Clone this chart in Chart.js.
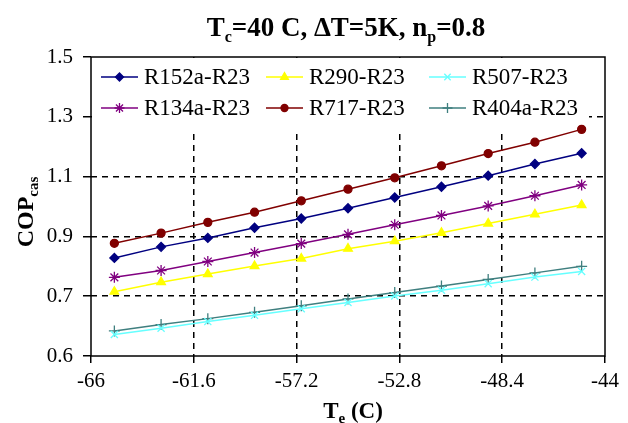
<!DOCTYPE html>
<html>
<head>
<meta charset="utf-8">
<script src="https://cdn.jsdelivr.net/npm/chart.js@4/dist/chart.umd.min.js"></script>
<style>
  html, body { margin: 0; padding: 0; background: #fff; }
  #wrap { width: 628px; height: 423px; position: relative; }
</style>
</head>
<body>
<div id="wrap"><canvas id="copChart" width="628" height="423"></canvas></div>
<script>
// evaporator temperature (C)
const te = [-65, -63, -61, -59, -57, -55, -53, -51, -49, -47, -45];

const r152a = [0.828, 0.865, 0.895, 0.929, 0.960, 0.994, 1.030, 1.066, 1.103, 1.142, 1.178];
const r290  = [0.715, 0.747, 0.774, 0.801, 0.826, 0.859, 0.884, 0.912, 0.943, 0.974, 1.005];
const r507  = [0.572, 0.593, 0.615, 0.636, 0.658, 0.679, 0.701, 0.720, 0.742, 0.764, 0.783];
const r134a = [0.763, 0.786, 0.816, 0.846, 0.876, 0.907, 0.939, 0.970, 1.002, 1.036, 1.072];
const r717  = [0.877, 0.911, 0.947, 0.981, 1.019, 1.058, 1.096, 1.136, 1.177, 1.215, 1.258];
const r404a = [0.584, 0.605, 0.625, 0.646, 0.668, 0.691, 0.712, 0.734, 0.756, 0.778, 0.800];

const xTicks = [-66, -61.6, -57.2, -52.8, -48.4, -44];
const xTickLabels = ['-66', '-61.6', '-57.2', '-52.8', '-48.4', '-44'];
const yTicks = [0.5, 0.7, 0.9, 1.1, 1.3, 1.5];
const yTickLabels = ['0.6', '0.7', '0.9', '1.1', '1.3', '1.5'];

const serif = '"Liberation Serif", "Times New Roman", serif';

function series(label, values, color, style, radius) {
  return {
    label,
    data: values.map((v, i) => ({ x: te[i], y: v })),
    borderColor: color,
    backgroundColor: color,
    borderWidth: 1.5,
    pointStyle: style,
    pointRadius: radius,
    pointBorderWidth: 1.3,
  };
}

// legend order: row by row, 3 columns
const datasets = [
  series('R152a-R23', r152a, '#000080', 'rectRot', 4.5),
  series('R290-R23', r290, '#ffff00', 'triangle', 5),
  series('R507-R23', r507, '#66ffff', 'crossRot', 5),
  series('R134a-R23', r134a, '#800080', 'star', 5.5),
  series('R717-R23', r717, '#800000', 'circle', 4),
  series('R404a-R23', r404a, '#3f7f7f', 'cross', 5.5),
];

const edgeClear = (n) => (ctx) => (ctx.index === 0 || ctx.index === n - 1 ? 'rgba(0,0,0,0)' : '#000');

const decor = {
  id: 'decor',
  beforeDatasetsDraw(chart) {
    const { ctx, chartArea: a } = chart;
    // legend box covers the grid
    ctx.save();
    ctx.fillStyle = '#fff';
    ctx.fillRect(a.left + 1, a.top + 1, 497, 75);
    ctx.restore();
  },
  afterDraw(chart) {
    const { ctx, chartArea: a } = chart;
    ctx.save();
    ctx.strokeStyle = '#000';
    ctx.lineWidth = 1.5;
    ctx.strokeRect(a.left, a.top, a.right - a.left, a.bottom - a.top);

    // legend
    const cols = [101, 266, 429];
    const rows = [77, 108];
    ctx.font = '23px ' + serif;
    ctx.textBaseline = 'middle';
    ctx.textAlign = 'left';
    chart.data.datasets.forEach((ds, i) => {
      const x = cols[i % 3], y = rows[Math.floor(i / 3)];
      ctx.strokeStyle = ds.borderColor;
      ctx.lineWidth = 1.5;
      ctx.beginPath();
      ctx.moveTo(x, y);
      ctx.lineTo(x + 37, y);
      ctx.stroke();
      ctx.fillStyle = ds.backgroundColor;
      ctx.lineWidth = 1.3;
      Chart.helpers.drawPoint(ctx, { pointStyle: ds.pointStyle, radius: ds.pointRadius - 0.5, borderWidth: 1.3, rotation: 0 }, x + 18.5, y);
      ctx.fillStyle = '#000';
      ctx.fillText(ds.label, x + 43, y + 1);
    });

    // title
    ctx.fillStyle = '#000';
    ctx.textBaseline = 'alphabetic';
    const big = 'bold 27px ' + serif, small = 'bold 16px ' + serif;
    const parts = [['T', big, 0], ['c', small, 6], ['=40 C, \u0394T=5K, n', big, 0], ['p', small, 6], ['=0.8', big, 0]];
    let w = 0;
    parts.forEach(([t, f]) => { ctx.font = f; w += ctx.measureText(t).width; });
    let x = 346 - w / 2;
    parts.forEach(([t, f, dy]) => { ctx.font = f; ctx.fillText(t, x, 36 + dy); x += ctx.measureText(t).width; });

    // x axis title
    const xparts = [['T', 'bold 23px ' + serif, 0], ['e', 'bold 15px ' + serif, 5], [' (C)', 'bold 23px ' + serif, 0]];
    w = 0;
    xparts.forEach(([t, f]) => { ctx.font = f; w += ctx.measureText(t).width; });
    x = 353 - w / 2;
    xparts.forEach(([t, f, dy]) => { ctx.font = f; ctx.fillText(t, x, 418 + dy); x += ctx.measureText(t).width; });

    // y axis title
    ctx.translate(33, 212);
    ctx.rotate(-Math.PI / 2);
    const yparts = [['COP', 'bold 24px ' + serif, 0], ['cas', 'bold 15px ' + serif, 5]];
    w = 0;
    yparts.forEach(([t, f]) => { ctx.font = f; w += ctx.measureText(t).width; });
    x = -w / 2;
    yparts.forEach(([t, f, dy]) => { ctx.font = f; ctx.fillText(t, x, dy); x += ctx.measureText(t).width; });
    ctx.restore();
  },
};

new Chart(document.getElementById('copChart'), {
  type: 'scatter',
  data: { datasets: datasets.map((d) => ({ ...d, showLine: true })) },
  options: {
    responsive: false,
    animation: false,
    layout: { padding: { top: 57, right: 23, left: 0, bottom: 0 } },
    plugins: { legend: { display: false }, tooltip: { enabled: false }, title: { display: false } },
    scales: {
      x: {
        type: 'linear',
        min: -66,
        max: -44,
        afterBuildTicks: (s) => { s.ticks = xTicks.map((v) => ({ value: v })); },
        afterFit: (s) => { s.height = 67; },
        ticks: {
          callback: (v, i) => xTickLabels[i],
          color: '#000',
          font: { family: serif, size: 21 },
          padding: 6,
          maxRotation: 0,
        },
        grid: { color: edgeClear(xTicks.length), lineWidth: 1.5, tickColor: '#000', tickLength: 7, tickWidth: 1.5 },
        border: { display: false, dash: [6, 5] },
      },
      y: {
        type: 'linear',
        min: 0.5,
        max: 1.5,
        afterBuildTicks: (s) => { s.ticks = yTicks.map((v) => ({ value: v })); },
        afterFit: (s) => { s.width = 91; },
        ticks: {
          callback: (v, i) => yTickLabels[i],
          color: '#000',
          font: { family: serif, size: 21 },
          padding: 10,
        },
        grid: { color: edgeClear(yTicks.length), lineWidth: 1.5, tickColor: '#000', tickLength: 8, tickWidth: 1.5 },
        border: { display: false, dash: [6, 5] },
      },
    },
  },
  plugins: [decor],
});
</script>
</body>
</html>
